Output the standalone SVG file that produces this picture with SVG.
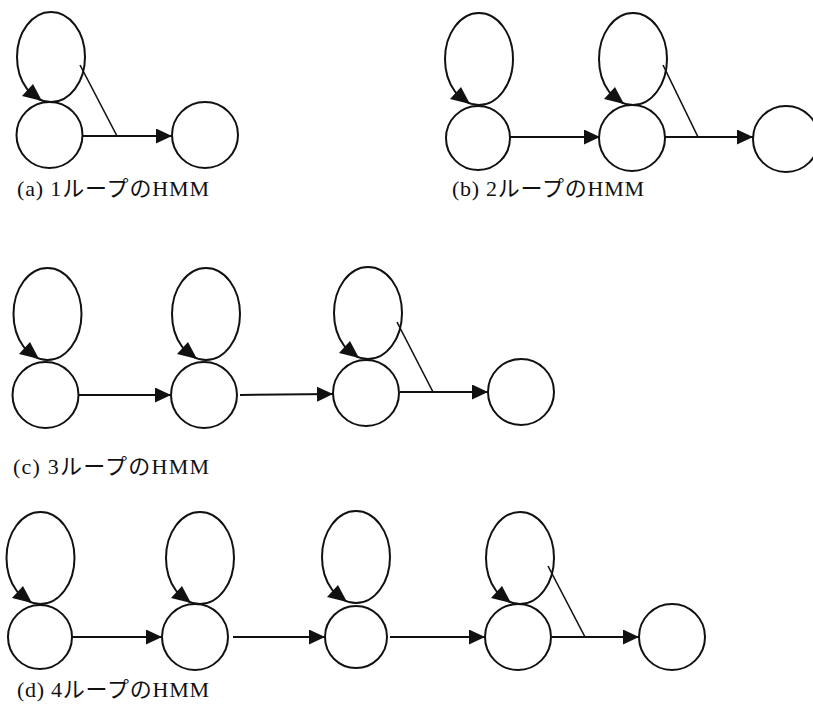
<svg xmlns="http://www.w3.org/2000/svg" width="813" height="709" viewBox="0 0 813 709">
  <style>
    .state { fill: none; stroke: #111; stroke-width: 2; }
    .loop { fill: none; stroke: #111; stroke-width: 2; }
    .edge { fill: none; stroke: #111; stroke-width: 2; marker-end: url(#arrow); }
    .skip { fill: none; stroke: #111; stroke-width: 1.6; }
    .head { fill: #111; stroke: none; }
    .caption { font-family: "Liberation Serif", "Noto Sans CJK JP", serif; font-size: 22px; fill: #111; }
  </style>
  <defs>
    <marker id="arrow" markerUnits="userSpaceOnUse" markerWidth="17" markerHeight="15" refX="16" refY="7.5" orient="auto">
      <path d="M0,0 L16,7.5 L0,15 Z" fill="#111"/>
    </marker>
    <!-- arrowhead closing each self-loop, tip at the origin -->
    <path id="loopHead" d="M0,0 L-20,-5 L-9,-17 Z"/>
  </defs>

  <!-- (a) one loop -->
  <g id="a-s1">
    <ellipse class="loop" cx="51" cy="57" rx="34" ry="45"/>
    <use href="#loopHead" class="head" x="42" y="101"/>
    <circle class="state" cx="49.5" cy="135" r="33"/>
  </g>
  <g id="a-s2">
    <circle class="state" cx="205" cy="135" r="33"/>
  </g>
  <g id="a-edges">
    <line class="edge" x1="82" y1="136" x2="172" y2="136"/>
    <line class="skip" x1="80" y1="65" x2="117" y2="136"/>
  </g>
  <text class="caption" x="17" y="196" textLength="192" lengthAdjust="spacing">(a) 1ループのHMM</text>

  <!-- (b) two loops -->
  <g id="b-s1">
    <ellipse class="loop" cx="479" cy="59" rx="34" ry="46"/>
    <use href="#loopHead" class="head" x="470" y="104"/>
    <circle class="state" cx="478" cy="138" r="32"/>
  </g>
  <g id="b-s2">
    <ellipse class="loop" cx="633" cy="59" rx="34" ry="46"/>
    <use href="#loopHead" class="head" x="624" y="104"/>
    <circle class="state" cx="632" cy="138" r="33"/>
  </g>
  <g id="b-s3">
    <circle class="state" cx="786" cy="139" r="33"/>
  </g>
  <g id="b-edges">
    <line class="edge" x1="510" y1="137" x2="600" y2="137"/>
    <line class="edge" x1="665" y1="137" x2="753" y2="137"/>
    <line class="skip" x1="663" y1="65" x2="698" y2="137"/>
  </g>
  <text class="caption" x="452" y="196" textLength="192" lengthAdjust="spacing">(b) 2ループのHMM</text>

  <!-- (c) three loops -->
  <g id="c-s1">
    <ellipse class="loop" cx="47.5" cy="314" rx="34" ry="46"/>
    <use href="#loopHead" class="head" x="39" y="359"/>
    <circle class="state" cx="45.5" cy="395" r="33"/>
  </g>
  <g id="c-s2">
    <ellipse class="loop" cx="206" cy="314" rx="34" ry="46"/>
    <use href="#loopHead" class="head" x="197" y="359"/>
    <circle class="state" cx="204" cy="395" r="33"/>
  </g>
  <g id="c-s3">
    <ellipse class="loop" cx="368" cy="313" rx="34" ry="46"/>
    <use href="#loopHead" class="head" x="359" y="358"/>
    <circle class="state" cx="366" cy="393" r="33"/>
  </g>
  <g id="c-s4">
    <circle class="state" cx="521" cy="392" r="33"/>
  </g>
  <g id="c-edges">
    <line class="edge" x1="78" y1="395" x2="171" y2="395"/>
    <line class="edge" x1="240" y1="395" x2="333" y2="394"/>
    <line class="edge" x1="400" y1="392" x2="488" y2="392"/>
    <line class="skip" x1="397" y1="322" x2="433" y2="392"/>
  </g>
  <text class="caption" x="13" y="474" textLength="196" lengthAdjust="spacing">(c) 3ループのHMM</text>

  <!-- (d) four loops -->
  <g id="d-s1">
    <ellipse class="loop" cx="40.5" cy="558" rx="34" ry="46"/>
    <use href="#loopHead" class="head" x="32" y="603"/>
    <circle class="state" cx="40" cy="637" r="32"/>
  </g>
  <g id="d-s2">
    <ellipse class="loop" cx="200" cy="558" rx="34" ry="46"/>
    <use href="#loopHead" class="head" x="191" y="603"/>
    <circle class="state" cx="195" cy="637" r="33"/>
  </g>
  <g id="d-s3">
    <ellipse class="loop" cx="356" cy="557" rx="34" ry="46"/>
    <use href="#loopHead" class="head" x="347" y="602"/>
    <circle class="state" cx="356" cy="637" r="31"/>
  </g>
  <g id="d-s4">
    <ellipse class="loop" cx="520" cy="558" rx="34" ry="46"/>
    <use href="#loopHead" class="head" x="511" y="603"/>
    <circle class="state" cx="518" cy="637" r="33"/>
  </g>
  <g id="d-s5">
    <circle class="state" cx="672" cy="637" r="33"/>
  </g>
  <g id="d-edges">
    <line class="edge" x1="72" y1="637" x2="162" y2="637"/>
    <line class="edge" x1="233" y1="637" x2="325" y2="637"/>
    <line class="edge" x1="390" y1="637" x2="485" y2="637"/>
    <line class="edge" x1="552" y1="637" x2="639" y2="637"/>
    <line class="skip" x1="548" y1="566" x2="585" y2="637"/>
  </g>
  <text class="caption" x="17" y="697" textLength="192" lengthAdjust="spacing">(d) 4ループのHMM</text>
</svg>
